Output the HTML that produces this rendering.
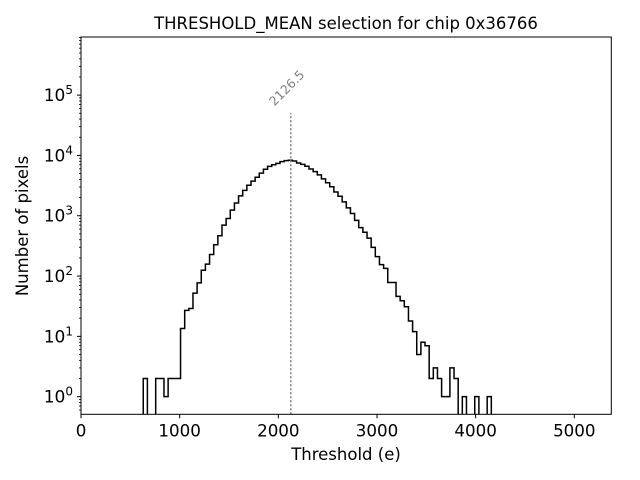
<!DOCTYPE html>
<html><head><meta charset="utf-8"><style>
body{margin:0;background:#fff;}
svg{display:block;font-family:"DejaVu Sans","Liberation Sans",sans-serif;}
</style></head><body>
<svg id="chart" width="640" height="480" viewBox="0 0 640 480"></svg>
<script>
const binStart = 631;
const binWidth = 42;
const counts = [2,0,0,2,2,1,2,2,2,13.5,27,29,52,77,125,158,228,330,465,700,900,1240,1630,2130,2640,3200,3750,4350,5100,5900,6600,7000,7400,7900,8200,
8300,8100,7480,7110,6610,5970,5400,4750,4090,3520,3030,2470,2100,1700,1350,1090,838,635,533,425,299,210,155,134,78,78,46,39,31,18,12,5,8,7,2,3,2,1,1,3,2,0,1,0,0,1,0,0,1];
const meanValue = 2126.5;
const xTicks = [0,1000,2000,3000,4000,5000];
const yTickExps = [0,1,2,3,4,5];

const L=81,R=611.3,T=37,B=414.3;
const xMin=0,xMax=5375,yMin=0.51,yMax=9.2e5;
const NS="http://www.w3.org/2000/svg";
const svg=document.getElementById('chart');
function X(v){return L+(v-xMin)/(xMax-xMin)*(R-L);}
function Y(v){return B-(Math.log10(v)-Math.log10(yMin))/(Math.log10(yMax)-Math.log10(yMin))*(B-T);}
function mk(tag,attrs,parent){const e=document.createElementNS(NS,tag);for(const k in attrs)e.setAttribute(k,attrs[k]);(parent||svg).appendChild(e);return e;}

const defs=mk('defs',{});
const cp=mk('clipPath',{id:'clip'},defs);
mk('rect',{x:L,y:T,width:R-L,height:B-T},cp);

let d='';
for(let i=0;i<counts.length;i++){
  const x0=X(binStart+i*binWidth),x1=X(binStart+(i+1)*binWidth);
  const y=counts[i]>0?Y(counts[i]):B+5;
  if(i===0)d+='M'+x0+','+(B+5)+' ';
  d+='L'+x0+','+y+' L'+x1+','+y+' ';
}
d+='L'+X(binStart+counts.length*binWidth)+','+(B+5);
const hist=mk('path',{d:d,fill:'none',stroke:'#000','stroke-width':1.5,'clip-path':'url(#clip)'});



const mx=X(meanValue);
const ml=mk('line',{x1:mx,x2:mx,y1:B,y2:113,stroke:'#808080','stroke-width':1.5,'stroke-dasharray':'2,2'});


const mt=mk('text',{x:mx-1,y:91,fill:'#808080','font-size':12.5,transform:'rotate(-45 '+(mx-1)+' 91)','text-anchor':'middle'});
mt.textContent=String(meanValue);



const fr=mk('rect',{x:L,y:T,width:R-L,height:B-T,fill:'none',stroke:'#000','stroke-width':1});



xTicks.forEach(v=>{
  const x=X(v);
  mk('line',{x1:x,x2:x,y1:B,y2:B+4,stroke:'#000'});
  const t=mk('text',{x:x,y:B+22,'font-size':16.7,'text-anchor':'middle'});
  t.textContent=v;
  
  
});
yTickExps.forEach(e=>{
  const y=Y(Math.pow(10,e));
  mk('line',{x1:L,x2:L-4,y1:y,y2:y,stroke:'#000'});
  const t=mk('text',{x:L-8,y:y+6,'font-size':17,'text-anchor':'end'});
  t.innerHTML='10<tspan dy="-7" font-size="12">'+e+'</tspan>';
  
  
});
for(let e=-1;e<=5;e++){for(let m=2;m<=9;m++){const v=m*Math.pow(10,e);if(v<yMin||v>yMax)continue;const y=Y(v);mk('line',{x1:L,x2:L-2,y1:y,y2:y,stroke:'#000','stroke-width':0.8});}}

const title=mk('text',{x:346,y:29,'font-size':16.5,'text-anchor':'middle'});
title.textContent='THRESHOLD_MEAN selection for chip 0x36766';


const xl=mk('text',{x:346,y:460,'font-size':16.5,'text-anchor':'middle'});
xl.textContent='Threshold (e)';


const yl=mk('text',{x:28,y:226,'font-size':16.5,'text-anchor':'middle',transform:'rotate(-90 28 226)'});
yl.textContent='Number of pixels';


</script>
</body></html>
